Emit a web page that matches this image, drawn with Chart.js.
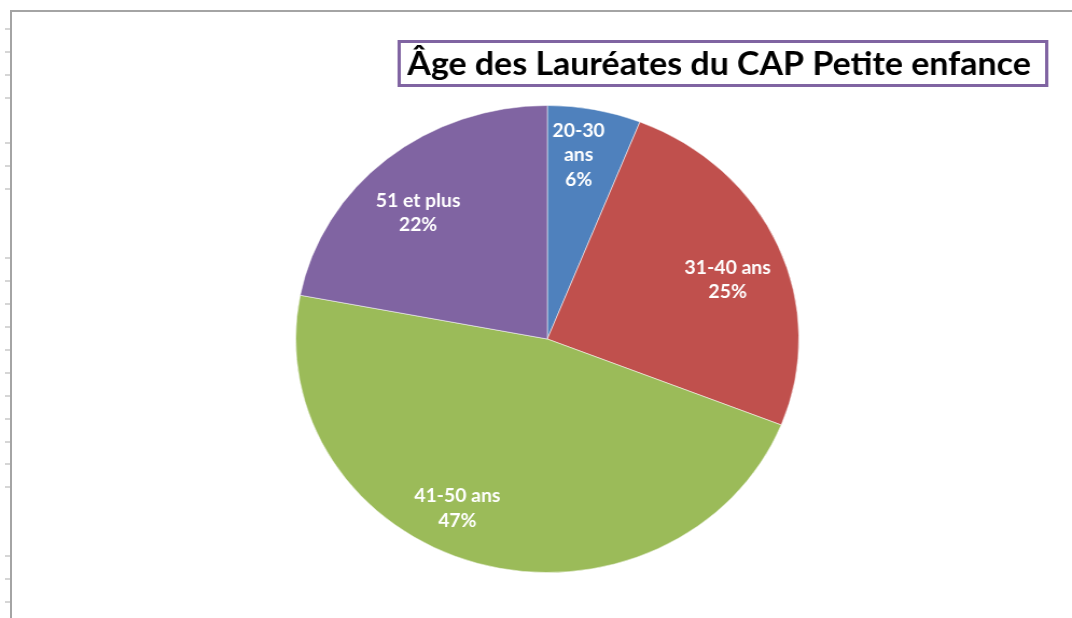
<!DOCTYPE html>
<html>
<head>
<meta charset="utf-8">
<script src="https://cdn.jsdelivr.net/npm/chart.js@4/dist/chart.umd.min.js"></script>
<style>
	body { margin: 0; background: #fff; }
	#page { position: relative; width: 1072px; height: 618px; overflow: hidden; background: #fff; }
	#vline { position: absolute; left: 10px; top: 10px; width: 2px; height: 608px; background: #a4a4a4; }
	#hline { position: absolute; left: 10px; top: 10px; width: 1062px; height: 2px; background: #a4a4a4; }
	.tick { position: absolute; left: 5px; width: 5px; height: 2px; background: #d6d6d6; }
	#wrap { position: absolute; left: 0; top: 0; transform: scaleX(1.0774); transform-origin: 0 0; }
</style>
</head>
<body>
<div id="page">
	<div id="wrap"><canvas id="age-pie" width="995" height="618"></canvas></div>
	<div id="vline"></div>
	<div id="hline"></div>
</div>
<script>
// Data for the pie
var categories = [ '20-30 ans', '31-40 ans', '41-50 ans', '51 et plus' ];
var percents   = [ 6, 25, 47, 22 ];
// how each label is broken into lines inside its slice
var labelLines = [ ['20-30', 'ans'], ['31-40 ans'], ['41-50 ans'], ['51 et plus'] ];
var chartTitle = 'Âge des Lauréates du CAP Petite enfance';

var sliceColors = [ '#4f81bd', '#c0504d', '#9bbb59', '#8064a2' ];
// label placement tweaks: angle shift (deg) and fraction of radius
var labelShift = [ -1.8, 4, 10, -4 ];
var labelRadius = [ 0.795, 0.76, 0.81, 0.745 ];

// the spreadsheet row ticks at the left edge
var tickRows = [ 29, 52, 75, 98, 143, 166, 189, 258, 281, 304, 327, 350, 373, 396, 419, 442, 464, 487, 556, 579, 602 ];
tickRows.forEach(function(y) {
	var t = document.createElement('div');
	t.className = 'tick';
	t.style.top = (y - 1) + 'px';
	document.getElementById('page').appendChild(t);
});

var sliceLabels = {
	id: 'sliceLabels',
	afterDatasetsDraw: function(chart) {
		var ctx = chart.ctx;
		var meta = chart.getDatasetMeta(0);
		ctx.save();
		ctx.font = 'bold 18px Lato';
		ctx.fillStyle = '#ffffff';
		ctx.textAlign = 'center';
		ctx.textBaseline = 'middle';
		meta.data.forEach(function(arc, i) {
			var p = arc.getProps(['x', 'y', 'startAngle', 'endAngle', 'outerRadius'], true);
			var mid = (p.startAngle + p.endAngle) / 2 + labelShift[i] * Math.PI / 180;
			var r = p.outerRadius * labelRadius[i];
			var cx = p.x + Math.cos(mid) * r;
			var cy = p.y + Math.sin(mid) * r;
			var lines = labelLines[i].concat([percents[i] + '%']);
			var lh = 24.5;
			var y0 = cy - (lines.length - 1) * lh / 2;
			lines.forEach(function(s, k) {
				ctx.fillText(s, cx, y0 + k * lh);
			});
		});
		ctx.restore();
	}
};

var boxedTitle = {
	id: 'boxedTitle',
	afterDraw: function(chart) {
		var ctx = chart.ctx;
		ctx.save();
		ctx.strokeStyle = '#8064a2';
		ctx.lineWidth = 3;
		ctx.strokeRect(370.5, 41.5, 601, 44);
		ctx.font = 'bold 31.5px Lato';
		ctx.fillStyle = '#000000';
		ctx.textAlign = 'left';
		ctx.textBaseline = 'middle';
		ctx.fillText(chartTitle, 378, 65);
		ctx.restore();
	}
};

var ctx = document.getElementById('age-pie');
var cfg = {
	type: 'pie',
	data: {
		labels: categories,
		datasets: [ {
			data: percents,
			backgroundColor: sliceColors,
			borderColor: 'rgba(255,255,255,0.5)',
			borderWidth: 1
		} ]
	},
	options: {
		responsive: false,
		animation: false,
		layout: { padding: { left: 274, right: 253, top: 105, bottom: 45 } },
		plugins: {
			legend: { display: false },
			tooltip: { enabled: false },
			title: { display: false }
		}
	},
	plugins: [ sliceLabels, boxedTitle ]
};
new Chart(ctx, cfg);
</script>
</body>
</html>
